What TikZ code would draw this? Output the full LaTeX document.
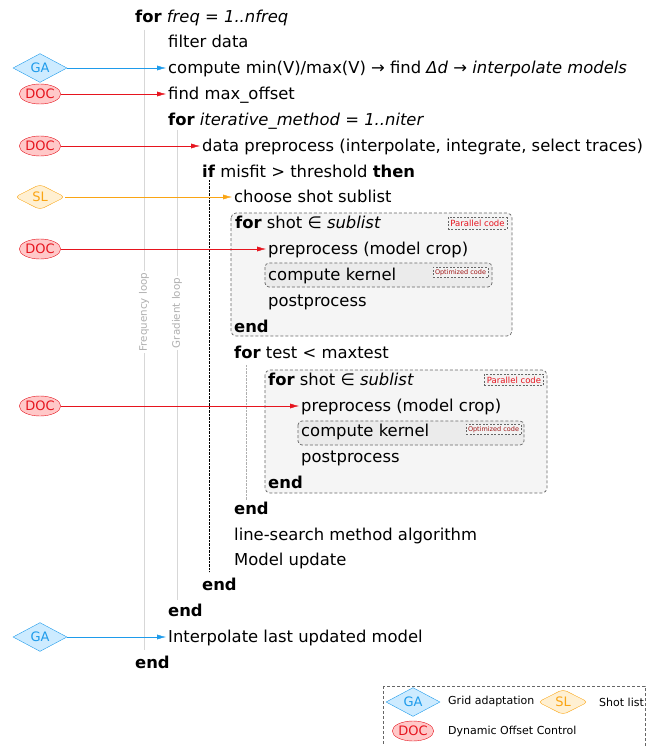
\documentclass[tikz,border=0pt]{standalone}
\usepackage{fontspec}
\setmainfont{DejaVu Sans}
\usetikzlibrary{arrows.meta,shapes.geometric}

\definecolor{gablue}{RGB}{30,155,235}
\definecolor{gafill}{RGB}{205,235,255}
\definecolor{docred}{RGB}{230,20,30}
\definecolor{docfill}{RGB}{255,200,200}
\definecolor{slorange}{RGB}{250,165,20}
\definecolor{slfill}{RGB}{255,240,210}
\definecolor{loopgray}{RGB}{215,215,215}
\definecolor{labelgray}{RGB}{175,175,175}
\definecolor{optred}{RGB}{160,20,20}

\tikzset{
	line/.style={anchor=west, inner sep=0pt, text height=14pt, text depth=3pt, font=\fontsize{16.4}{19}\selectfont},
	ga/.style={diamond, draw=gablue, fill=gafill, text=gablue, inner sep=0pt, minimum width=54pt, minimum height=26pt, font=\fontsize{13}{15}\selectfont},
	doc/.style={ellipse, draw=docred, fill=docfill, text=docred, inner sep=0pt, minimum width=40pt, minimum height=20pt, font=\fontsize{13}{15}\selectfont},
	sl/.style={diamond, rounded corners=4pt, draw=slorange, fill=slfill, text=slorange, inner sep=0pt, minimum width=50pt, minimum height=24pt, font=\fontsize{13}{15}\selectfont},
	gaarrow/.style={draw=gablue, -{Latex[length=9pt,width=5pt]}, shorten >=2pt},
	docarrow/.style={draw=docred, -{Latex[length=9pt,width=5pt]}, shorten >=2pt},
	slarrow/.style={draw=slorange, -{Latex[length=9pt,width=5pt]}, shorten >=2pt},
	parbox/.style={draw=black!60, line width=0.7pt, dash pattern=on 3pt off 2pt, rounded corners=5pt, fill=black!4},
	kernbox/.style={draw=black!60, line width=0.7pt, dash pattern=on 3pt off 2pt, rounded corners=4pt, fill=black!8},
	partag/.style={draw=black!60, line width=0.6pt, dash pattern=on 2pt off 1.5pt, fill=black!5, text=docred, inner sep=2.5pt, font=\fontsize{8.5}{9}\selectfont},
	opttag/.style={draw=black!60, line width=0.6pt, dash pattern=on 2pt off 1.5pt, fill=black!5, text=optred, inner sep=2pt, font=\fontsize{6.5}{7}\selectfont},
	looplabel/.style={rotate=90, fill=white, text=labelgray, inner sep=2pt, font=\fontsize{10.3}{12}\selectfont},
	legtext/.style={anchor=west, inner sep=0pt, font=\fontsize{11}{13}\selectfont}
}

\begin{document}
\begin{tikzpicture}[x=1pt, y=-1pt]
	\useasboundingbox (0,0) rectangle (656,746);

	% loop guides
	\draw[loopgray, line width=0.9pt] (144,30) -- (144,650);
	\draw[loopgray, line width=0.9pt] (177,130) -- (177,600);
	\node[looplabel] (freqlab) at (144,312) {Frequency loop};
	\node[looplabel] (gradlab) at (177,313) {Gradient loop};
	\draw[densely dotted, thin] (209,180) -- (209,572);
	\draw[densely dotted, labelgray, thin] (246,365) -- (246,500);

	% parallel blocks
	\draw[parbox] (231,213) rectangle (512,336);
	\draw[kernbox] (265,263) rectangle (492,287);
	\draw[parbox] (265,370) rectangle (547,493);
	\draw[kernbox] (298,421) rectangle (524,445);
	\node[partag] (parA) at (477.5,223.5) {Parallel code};
	\node[partag] (parB) at (514,380) {Parallel code};
	\node[opttag] (optA) at (460.5,272.5) {Optimized code};
	\node[opttag] (optB) at (493.5,429.5) {Optimized code};

	% algorithm
	\node[line] (forfreq) at (135,17) {\textbf{for} \textit{freq = 1..nfreq}};
	\node[line] (filter) at (168,42) {filter data};
	\node[line] (compute) at (168,68) {compute min(V)/max(V) → find \textit{Δd} → \textit{interpolate models}};
	\node[line] (maxoff) at (168,94) {find max\_offset};
	\node[line] (foriter) at (168,120) {\textbf{for} \textit{iterative\_method = 1..niter}};
	\node[line] (dataprep) at (202,146) {data preprocess (interpolate, integrate, select traces)};
	\node[line] (ifmis) at (202,172) {\textbf{if} misfit > threshold \textbf{then}};
	\node[line] (choose) at (234,197) {choose shot sublist};
	\node[line] (forshotA) at (235,223) {\textbf{for} shot ∈ \textit{sublist}};
	\node[line] (prepA) at (268,249) {preprocess (model crop)};
	\node[line] (kernA) at (268,275) {compute kernel};
	\node[line] (postA) at (268,301) {postprocess};
	\node[line] (endA) at (234,327) {\textbf{end}};
	\node[line] (fortest) at (234,353) {\textbf{for} test < maxtest};
	\node[line] (forshotB) at (268,380) {\textbf{for} shot ∈ \textit{sublist}};
	\node[line] (prepB) at (301,406) {preprocess (model crop)};
	\node[line] (kernB) at (301,431) {compute kernel};
	\node[line] (postB) at (301,457) {postprocess};
	\node[line] (endB) at (268,483) {\textbf{end}};
	\node[line] (endtest) at (234,509) {\textbf{end}};
	\node[line] (search) at (234,535) {line-search method algorithm};
	\node[line] (update) at (234,560) {Model update};
	\node[line] (endif) at (202,585) {\textbf{end}};
	\node[line] (enditer) at (168,611) {\textbf{end}};
	\node[line] (interp) at (168,637) {Interpolate last updated model};
	\node[line] (endfreq) at (135,663) {\textbf{end}};

	% markers
	\foreach \y/\t in {68/compute, 637/interp}
	{
		\node[ga] (ga\t) at (40,\y) {GA};
		\draw[gaarrow] (ga\t) -- (\t.west);
	}
	\foreach \y/\t in {94/maxoff, 146/dataprep, 249/prepA, 406/prepB}
	{
		\node[doc] (doc\t) at (40,\y) {DOC};
		\draw[docarrow] (doc\t) -- (\t.west);
	}
	\node[sl] (slchoose) at (40,197) {SL};
	\draw[slarrow] (slchoose) -- (choose.west);

	% legend
	\draw[black!60, line width=0.7pt, dash pattern=on 3pt off 2pt] (383,686) rectangle (645,760);
	\node[ga] (legga) at (413,702) {GA};
	\node[legtext] (leggatext) at (448,701) {Grid adaptation};
	\node[sl] (legsl) at (563,702) {SL};
	\node[legtext] (legsltext) at (599,702) {Shot list};
	\node[doc] (legdoc) at (413,731) {DOC};
	\node[legtext] (legdoctext) at (448,731) {Dynamic Offset Control};
\end{tikzpicture}
\end{document}
